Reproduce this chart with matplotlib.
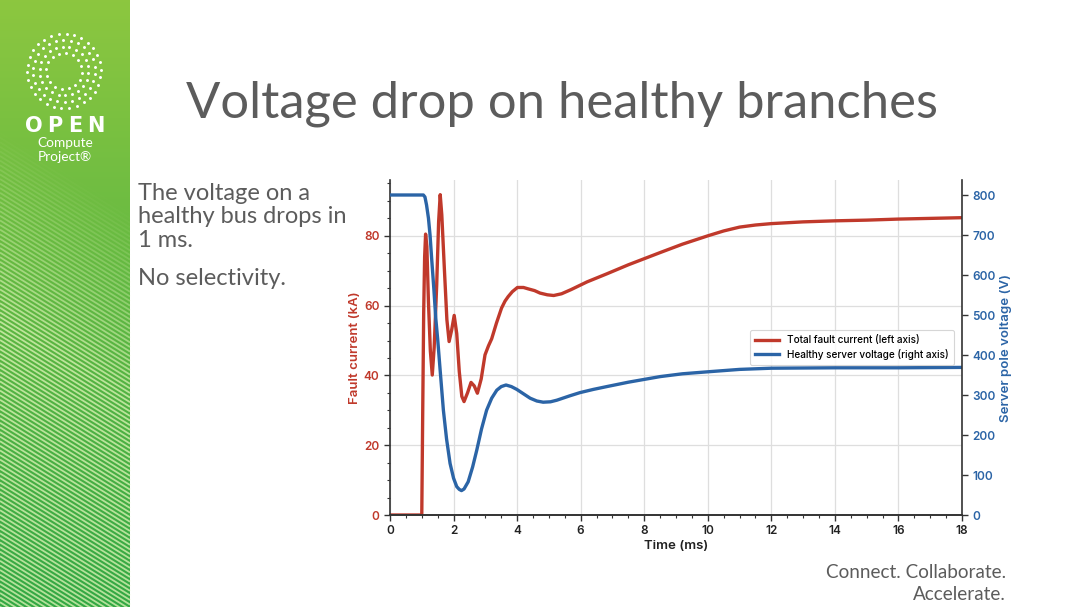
import numpy as np
import matplotlib.pyplot as plt
from matplotlib.collections import LineCollection
from matplotlib.ticker import MultipleLocator

# fault current trace (kA)
t_current = [0, 1.0, 1.03, 1.06, 1.09, 1.12, 1.16, 1.21, 1.27, 1.33, 1.39, 1.47,
             1.53, 1.58, 1.63, 1.71, 1.79, 1.86, 1.94, 2.02, 2.1, 2.18, 2.26,
             2.33, 2.44, 2.55, 2.65, 2.75, 2.87, 2.99, 3.1, 3.2, 3.35, 3.51,
             3.62, 3.72, 3.85, 4.01, 4.2, 4.35, 4.55, 4.72, 4.95, 5.15, 5.4,
             5.7, 6.2, 6.82, 7.5, 8.5, 9.2, 10.0, 10.5, 11.0, 11.5, 12.0,
             13.0, 14.0, 15.0, 16.0, 17.0, 18.0]
current = [0, 0, 30, 58, 74, 80.5, 77, 61, 47, 40.1, 48, 66,
           84, 91.8, 86, 70.7, 56, 49.7, 53, 57.2, 52, 41.1, 34,
           32.5, 35, 38.0, 37, 34.9, 39, 45.9, 48.5, 50.5, 55, 59.3,
           61.3, 62.6, 64, 65.2, 65.2, 64.8, 64.3, 63.6, 63.1, 62.9, 63.4,
           64.6, 66.8, 69.1, 71.7, 75.2, 77.6, 80.0, 81.4, 82.5, 83.1, 83.5,
           84.0, 84.3, 84.5, 84.8, 85.0, 85.2]

# healthy server pole voltage (V)
t_voltage = [0, 1.05, 1.1, 1.15, 1.21, 1.26, 1.31, 1.38, 1.44, 1.5, 1.57, 1.68,
             1.78, 1.89, 2.0, 2.1, 2.18, 2.25, 2.33, 2.46, 2.6, 2.73, 2.88,
             3.04, 3.2, 3.36, 3.5, 3.65, 3.82, 3.99, 4.2, 4.41, 4.62, 4.82,
             5.05, 5.25, 5.66, 5.98, 6.4, 6.82, 7.5, 8.5, 9.2, 10.0, 11.0,
             12.0, 14.0, 16.0, 18.0]
voltage = [800, 800, 795, 775, 742, 700, 642, 565, 492, 440, 370, 262,
           190, 129, 92, 71, 64, 61, 65, 83, 120, 162, 215,
           262, 292, 312, 321, 325, 321, 314, 303, 292, 285, 282,
           283, 287, 298, 306, 314, 321, 332, 346, 353, 358, 364,
           367, 368, 368, 369]

title = "Voltage drop on healthy branches"
bullet_lines = ["The voltage on a", "healthy bus drops in", "1 ms."]
bullet_two = "No selectivity."

RED = "#c0392b"
BLUE = "#2b64a6"
GREY = "#5c5c5c"

fig = plt.figure(figsize=(10.8, 6.07), dpi=100)

# slide background in pixel coordinates
bg = fig.add_axes([0, 0, 1, 1], zorder=-5)
bg.set_xlim(0, 1080)
bg.set_ylim(607, 0)
bg.axis("off")

grad = np.linspace(0, 1, 300)[:, None]
top_col = np.array([0.55, 0.78, 0.25])
bot_col = np.array([0.20, 0.66, 0.27])
img = top_col + (bot_col - top_col) * grad[..., None]
img = np.repeat(img, 2, axis=1)
bg.imshow(img, extent=[0, 130, 607, 0], aspect="auto", zorder=0)

segs, alphas = [], []
for c in np.arange(-120, 640, 4.6):
    xs = np.array([0, 130])
    ys = 0.62 * xs + c
    segs.append(np.column_stack([xs, ys]))
    mid = c + 40
    alphas.append(np.clip((mid - 170) / 250, 0, 0.75))
cols = [(0.88, 0.96, 0.72, a) for a in alphas]
lc = LineCollection(segs, colors=cols, linewidths=1.3, zorder=1)
clip = plt.Rectangle((0, 0), 130, 607, transform=bg.transData)
lc.set_clip_path(clip)
bg.add_collection(lc)

# logo ring
for r, n in [(18, 16), (24.5, 22), (31, 26), (37, 30)]:
    ang = np.linspace(0, 2 * np.pi, n, endpoint=False) + r * 0.05
    bg.scatter(64 + r * np.cos(ang), 71 + r * np.sin(ang), s=4.5,
               color="white", marker="o", linewidths=0, zorder=3)
for ch, x in zip("OPEN", [34, 54.5, 75, 96]):
    bg.text(x, 126, ch, color="white", fontsize=15, fontweight="bold",
            family="DejaVu Sans", ha="center", va="center", zorder=3)
bg.text(65, 143, "Compute", color="white", fontsize=9.8, family="Lato",
        ha="center", va="center", zorder=3)
bg.text(65, 157, "Project®", color="white", fontsize=9.8, family="Lato",
        ha="center", va="center", zorder=3)

bg.text(562, 104, title, color=GREY, fontsize=36.5, family="Lato",
        ha="center", va="center")
for line, yb in zip(bullet_lines, [200, 223.3, 246.7]):
    bg.text(138, yb, line, color=GREY, fontsize=17, family="Lato",
            ha="left", va="baseline")
bg.text(138, 285, bullet_two, color=GREY, fontsize=17, family="Lato",
        ha="left", va="baseline")
bg.text(1006, 578, "Connect. Collaborate.", color=GREY, fontsize=13.6,
        family="Lato", ha="right", va="baseline")
bg.text(1006, 600, "Accelerate.", color=GREY, fontsize=13.6,
        family="Lato", ha="right", va="baseline")

# chart
ax = fig.add_axes([390 / 1080, 92 / 607, 572 / 1080, 335 / 607])
ax2 = ax.twinx()

l1, = ax.plot(t_current, current, color=RED, lw=2.4,
              label="Total fault current (left axis)")
l2, = ax2.plot(t_voltage, voltage, color=BLUE, lw=2.4,
               label="Healthy server voltage (right axis)")

ax.set_xlim(0, 18)
ax.set_ylim(0, 96)
ax2.set_ylim(0, 837.5)

ax.xaxis.set_major_locator(MultipleLocator(2))
ax.xaxis.set_minor_locator(MultipleLocator(0.5))
ax.yaxis.set_major_locator(MultipleLocator(20))
ax.yaxis.set_minor_locator(MultipleLocator(5))
ax2.yaxis.set_major_locator(MultipleLocator(100))

ax.grid(True, which="major", color="#dedede", lw=0.9)
ax.set_axisbelow(True)

for a in (ax, ax2):
    a.spines["top"].set_visible(False)
    for s in a.spines.values():
        s.set_color("#333333")
        s.set_linewidth(1.2)
ax.spines["right"].set_visible(False)
ax2.spines["left"].set_visible(False)

tick_font = dict(family="Inter", weight="semibold", size=8.5)
ax.tick_params(axis="both", which="major", length=4, width=1, color="#333333")
ax.tick_params(axis="both", which="minor", length=2, width=0.8, color="#333333")
ax2.tick_params(axis="y", length=4, width=1, color="#333333")
for lbl in ax.get_xticklabels():
    lbl.set(**tick_font, color="#222222")
for lbl in ax.get_yticklabels():
    lbl.set(**tick_font, color=RED)
for lbl in ax2.get_yticklabels():
    lbl.set(**tick_font, color=BLUE)

label_font = dict(family="Inter", fontweight="semibold", fontsize=9.5)
ax.set_xlabel("Time (ms)", color="#222222", labelpad=2, **label_font)
ax.set_ylabel("Fault current (kA)", color=RED, labelpad=2, **label_font)
ax2.set_ylabel("Server pole voltage (V)", color=BLUE, labelpad=3, **label_font)

leg = ax2.legend(handles=[l1, l2], loc="upper right",
                 bbox_to_anchor=(0.995, 0.566),
                 prop={"family": "Inter", "size": 7.2, "weight": "medium"},
                 frameon=True, fancybox=True, edgecolor="#cccccc",
                 handlelength=2.4, borderpad=0.5, labelspacing=0.35)
leg.get_frame().set_linewidth(0.8)

fig.savefig("out.png", dpi=100)
